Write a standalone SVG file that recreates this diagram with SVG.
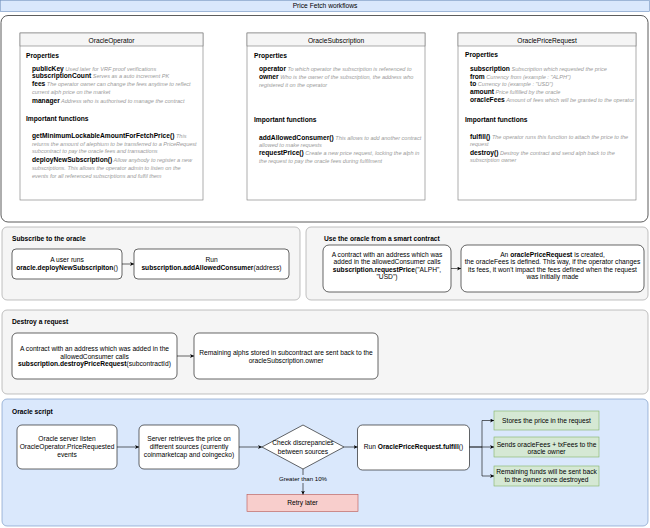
<svg xmlns="http://www.w3.org/2000/svg" width="650" height="528" viewBox="0 0 650 528">
<defs>
<style>
text{font-family:"Liberation Sans",Arial,Helvetica,sans-serif;font-size:6.66px;fill:#000}
.b{font-weight:bold}
.d{font-style:italic;font-size:5.55px;fill:#9a9a9a;font-weight:normal}
.m{text-anchor:middle}
.cls{fill:#fff;stroke:#777;stroke-width:0.6}
.hdr{fill:#f5f5f5;stroke:#777;stroke-width:0.6}
.panel{fill:#f5f5f5;stroke:#999;stroke-width:0.6}
.box{fill:#fff;stroke:#000;stroke-width:0.6}
.edge{fill:none;stroke:#000;stroke-width:0.6;marker-end:url(#arr)}
.green{fill:#d5e8d4;stroke:#82b366;stroke-width:0.6}
</style>
<marker id="arr" viewBox="0 0 10 10" refX="10" refY="5" markerWidth="4" markerHeight="4" markerUnits="userSpaceOnUse" orient="auto">
<path d="M0,0 L10,5 L0,10 L3,5 z" fill="#000"/>
</marker>
</defs>

<g id="title-bar">
<rect x="0.5" y="0.5" width="649" height="11" fill="#dae8fc" stroke="#6c8ebf" stroke-width="0.6"/>
<text class="m" x="325" y="8.2">Price Fetch workflows</text>
</g>

<g id="contracts-container">
<rect x="1" y="15.5" width="647" height="206.5" rx="7" fill="#fff" stroke="#333" stroke-width="0.8"/>
</g>

<g id="oracle-operator">
<rect class="cls" x="20" y="33" width="183" height="167"/>
<rect class="hdr" x="20" y="33" width="183" height="13"/>
<text class="m" x="111.5" y="43.3">OracleOperator</text>
<text class="b" x="26" y="57.8">Properties</text>
<text x="32" y="70.8"><tspan class="b">publicKey</tspan><tspan class="d"> Used later for VRF proof verifications</tspan></text>
<text x="32" y="78.3"><tspan class="b">subscriptionCount</tspan><tspan class="d"> Serves as a auto increment PK</tspan></text>
<text x="32" y="86.3"><tspan class="b">fees</tspan><tspan class="d"> The operator owner can change the fees anytime to reflect</tspan></text>
<text class="d" x="32" y="94.1">current alph price on the market</text>
<text x="32" y="102.8"><tspan class="b">manager</tspan><tspan class="d"> Address who is authorised to manage the contract</tspan></text>
<text class="b" x="26" y="121.3">Important functions</text>
<text x="32" y="138"><tspan class="b">getMinimumLockableAmountForFetchPrice()</tspan><tspan class="d"> This</tspan></text>
<text class="d" x="32" y="145.6">returns the amount of alephium to be transferred to a PriceRequest</text>
<text class="d" x="32" y="153.3">subcontract to pay the oracle fees and transactions</text>
<text x="32" y="161.6"><tspan class="b">deployNewSubscription()</tspan><tspan class="d"> Allow anybody to register a new</tspan></text>
<text class="d" x="32" y="169.8">subscriptions. This allows the operator admin to listen on the</text>
<text class="d" x="32" y="177.8">events for all referenced subscriptions and fulfil them</text>
</g>

<g id="oracle-subscription">
<rect class="cls" x="247" y="33" width="178" height="167"/>
<rect class="hdr" x="247" y="33" width="178" height="13"/>
<text class="m" x="336" y="43.3">OracleSubscription</text>
<text class="b" x="254" y="57.5">Properties</text>
<text x="259" y="71.3"><tspan class="b">operator</tspan><tspan class="d"> To which operator the subscription is referenced to</tspan></text>
<text x="259" y="79"><tspan class="b">owner</tspan><tspan class="d"> Who is the owner of the subscription, the address who</tspan></text>
<text class="d" x="259" y="87.4">registered it on the operator</text>
<text class="b" x="254" y="121.6">Important functions</text>
<text x="259" y="139.6"><tspan class="b">addAllowedConsumer()</tspan><tspan class="d"> This allows to add another contract</tspan></text>
<text class="d" x="259" y="146.6">allowed to make requests</text>
<text x="259" y="155"><tspan class="b">requestPrice()</tspan><tspan class="d"> Create a new price request, locking the alph in</tspan></text>
<text class="d" x="259" y="162.6">the request to pay the oracle fees during fulfilment</text>
</g>

<g id="oracle-price-request">
<rect class="cls" x="458" y="33" width="178" height="167"/>
<rect class="hdr" x="458" y="33" width="178" height="13"/>
<text class="m" x="547" y="43.3">OraclePriceRequest</text>
<text class="b" x="465" y="57.3">Properties</text>
<text x="470" y="71"><tspan class="b">subscription</tspan><tspan class="d"> Subscription which requested the price</tspan></text>
<text x="470" y="78.6"><tspan class="b">from</tspan><tspan class="d"> Currency from (example : "ALPH")</tspan></text>
<text x="470" y="86.3"><tspan class="b">to</tspan><tspan class="d"> Currency to (example : "USD")</tspan></text>
<text x="470" y="94"><tspan class="b">amount</tspan><tspan class="d"> Price fulfilled by the oracle</tspan></text>
<text x="470" y="102.3"><tspan class="b">oracleFees</tspan><tspan class="d"> Amount of fees which will be granted to the operator</tspan></text>
<text class="b" x="465" y="121.6">Important functions</text>
<text x="470" y="139"><tspan class="b">fulfill()</tspan><tspan class="d"> The operator runs this function to attach the price to the</tspan></text>
<text class="d" x="470" y="146.2">request</text>
<text x="470" y="154.6"><tspan class="b">destroy()</tspan><tspan class="d"> Destroy the contract and send alph back to the</tspan></text>
<text class="d" x="470" y="162.2">subscription owner</text>
</g>

<g id="subscribe-panel">
<rect class="panel" x="2" y="227" width="298" height="73" rx="5"/>
<text class="b" x="12" y="240.6">Subscribe to the oracle</text>
</g>
<g id="user-runs">
<rect class="box" x="12" y="249" width="110" height="30" rx="4"/>
<text class="m" x="67" y="261.6">A user runs</text>
<text class="m" x="67" y="270"><tspan class="b">oracle.deployNewSubscripiton</tspan>()</text>
</g>
<g id="run-add-consumer">
<rect class="box" x="134" y="249" width="155" height="30" rx="4"/>
<text class="m" x="211.5" y="261.6">Run</text>
<text class="m" x="211.5" y="270"><tspan class="b">subscription.addAllowedConsumer</tspan>(address)</text>
</g>

<g id="use-panel">
<rect class="panel" x="306" y="227" width="342" height="73" rx="5"/>
<text class="b" x="324" y="240.6">Use the oracle from a smart contract</text>
</g>
<g id="contract-request">
<rect class="box" x="323" y="245" width="128" height="47" rx="6"/>
<text class="m" x="387" y="257">A contract with an address which was</text>
<text class="m" x="387" y="264.4">added in the allowedConsumer calls</text>
<text class="m" x="387" y="271.8"><tspan class="b">subscription.requestPrice</tspan>("ALPH",</text>
<text class="m" x="387" y="279.2">"USD")</text>
</g>
<g id="price-request-created">
<rect class="box" x="461" y="245" width="183" height="47" rx="6"/>
<text class="m" x="552.5" y="257">An <tspan class="b">oraclePriceRequest</tspan> is created,</text>
<text class="m" x="552.5" y="264.4">the oracleFees is defined. This way, if the operator changes</text>
<text class="m" x="552.5" y="271.8">its fees, it won't impact the fees defined when the request</text>
<text class="m" x="552.5" y="279.2">was initially made</text>
</g>

<g id="destroy-panel">
<rect class="panel" x="2" y="310" width="646" height="84" rx="5"/>
<text class="b" x="12" y="324">Destroy a request</text>
</g>
<g id="contract-destroy">
<rect class="box" x="12" y="333" width="165" height="46" rx="5"/>
<text class="m" x="94.5" y="351">A contract with an address which was added in the</text>
<text class="m" x="94.5" y="358.6">allowedConsumer calls</text>
<text class="m" x="94.5" y="366.3"><tspan class="b">subscription.destroyPriceRequest</tspan>(subcontractId)</text>
</g>
<g id="remaining-alphs">
<rect class="box" x="194" y="333" width="184" height="46" rx="5"/>
<text class="m" x="286" y="354.6">Remaining alphs stored in subcontract are sent back to the</text>
<text class="m" x="286" y="362.6">oracleSubscription.owner</text>
</g>

<g id="oracle-script-panel">
<rect x="2" y="399" width="646" height="127" rx="5" fill="#dae8fc" stroke="#6c8ebf" stroke-width="0.6"/>
<text class="b" x="12" y="414">Oracle script</text>
</g>
<g id="server-listen">
<rect class="box" x="17" y="425" width="100" height="44" rx="5"/>
<text class="m" x="67" y="441.3">Oracle server listen</text>
<text class="m" x="67" y="449">OracleOperator.PriceRequested</text>
<text class="m" x="67" y="457">events</text>
</g>
<g id="server-retrieves">
<rect class="box" x="139" y="425" width="100" height="44" rx="5"/>
<text class="m" x="189" y="441.3">Server retrieves the price on</text>
<text class="m" x="189" y="449">different sources (currently</text>
<text class="m" x="189" y="457">coinmarketcap and coingecko)</text>
</g>
<g id="check-discrepancies">
<polygon points="262,447 303,425 344,447 303,469" fill="#fff" stroke="#000" stroke-width="0.6"/>
<text class="m" x="303" y="445">Check discrepancies</text>
<text class="m" x="303" y="453.6">between sources</text>
</g>
<g id="retry-later">
<rect x="247" y="494.5" width="111" height="17" fill="#f8cecc" stroke="#b85450" stroke-width="0.6"/>
<text class="m" x="302.5" y="504.6">Retry later</text>
</g>
<g id="run-fulfill">
<rect class="box" x="357.5" y="425" width="112" height="45" rx="5"/>
<text class="m" x="413.5" y="449.3">Run <tspan class="b">OraclePriceRequest.fulfill</tspan>()</text>
</g>
<g id="stores-price">
<rect class="green" x="494" y="411" width="105" height="19"/>
<text class="m" x="546.5" y="423.2">Stores the price in the request</text>
</g>
<g id="sends-fees">
<rect class="green" x="494" y="437" width="105" height="20"/>
<text class="m" x="546.5" y="446.6">Sends oracleFees + txFees to the</text>
<text class="m" x="546.5" y="453.8">oracle owner</text>
</g>
<g id="remaining-funds">
<rect class="green" x="494" y="466" width="105" height="20"/>
<text class="m" x="546.5" y="474.3">Remaining funds will be sent back</text>
<text class="m" x="546.5" y="482">to the owner once destroyed</text>
</g>

<g id="connectors">
<path class="edge" d="M122,264 H134"/>
<path class="edge" d="M451,268.5 H461"/>
<path class="edge" d="M177,356 H194"/>
<path class="edge" d="M117,447 H139"/>
<path class="edge" d="M239,447 H262"/>
<path class="edge" d="M303,469 V494.5"/>
<path class="edge" d="M344,447 H357.5"/>
<path class="edge" d="M469.5,447 H482 V420.5 H494"/>
<path class="edge" d="M469.5,447 H494"/>
<path class="edge" d="M482,447 V476 H494"/>
<rect x="280" y="475" width="47" height="8" fill="#dae8fc"/>
<text class="m" x="303" y="481.2" style="font-size:6.1px">Greater than 10%</text>
</g>
</svg>
